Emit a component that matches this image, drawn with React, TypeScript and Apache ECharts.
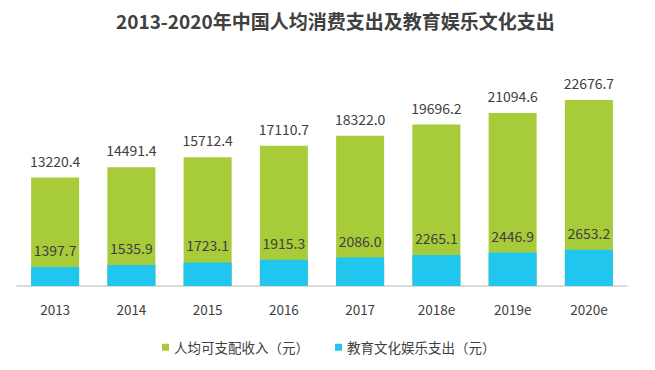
import React, { useEffect, useRef } from "react";
import * as echarts from "echarts";

const categories = ["2013", "2014", "2015", "2016", "2017", "2018e", "2019e", "2020e"];
const incomeValues = [13220.4, 14491.4, 15712.4, 17110.7, 18322.0, 19696.2, 21094.6, 22676.7];
const eduValues = [1397.7, 1535.9, 1723.1, 1915.3, 2086.0, 2265.1, 2446.9, 2653.2];
const seriesNames = ["人均可支配收入（元）", "教育文化娱乐支出（元）"];
const titleText = "2013-2020年中国人均消费支出及教育娱乐文化支出";

const FONT = "'Noto Sans CJK SC', 'Open Sans', sans-serif";

export default function App() {
  const ref = useRef<HTMLDivElement>(null);
  useEffect(() => {
    if (!ref.current) return;
    const chart = echarts.init(ref.current, null, { renderer: "svg" });
    chart.setOption({
      animation: false,
      backgroundColor: "#ffffff",
      textStyle: { fontFamily: FONT },
      title: {
        text: titleText,
        left: 111,
        top: 6,
        textStyle: { fontSize: 19, fontWeight: "bold", color: "#404040", fontFamily: FONT },
      },
      legend: {
        data: seriesNames,
        bottom: 11,
        left: 157,
        itemWidth: 7,
        itemHeight: 7,
        itemGap: 26,
        icon: "rect",
        textStyle: { fontSize: 13.5, color: "#404040", fontFamily: FONT },
      },
      grid: { left: 17, right: 28, top: 81, bottom: 84, containLabel: false },
      xAxis: {
        type: "category",
        data: categories,
        axisLine: { lineStyle: { color: "#d0d0d0", width: 1.5 } },
        axisTick: { show: false },
        axisLabel: { color: "#404040", fontSize: 13.5, margin: 16, fontFamily: FONT },
      },
      yAxis: [
        { type: "value", min: 0, max: 25000, show: false, splitLine: { show: false } },
        { type: "value", min: 0, max: 15000, show: false, splitLine: { show: false } },
      ],
      series: [
        {
          name: seriesNames[0],
          type: "bar",
          yAxisIndex: 0,
          data: incomeValues,
          barWidth: 48,
          barGap: "-100%",
          itemStyle: { color: "#a8cb3a" },
          label: {
            show: true,
            position: "top",
            distance: 10,
            color: "#404040",
            fontSize: 14,
            fontFamily: FONT,
            formatter: (p: any) => Number(p.value).toFixed(1),
          },
        },
        {
          name: seriesNames[1],
          type: "bar",
          yAxisIndex: 1,
          data: eduValues,
          barWidth: 48,
          barGap: "-100%",
          itemStyle: { color: "#20c6ee" },
          label: {
            show: true,
            position: "top",
            distance: 10,
            color: "#404040",
            fontSize: 14,
            fontFamily: FONT,
            formatter: (p: any) => Number(p.value).toFixed(1),
          },
        },
      ],
    });
    return () => chart.dispose();
  }, []);
  return (
    <div
      ref={ref}
      style={{ position: "fixed", left: 0, top: 0, width: 655, height: 370 }}
    />
  );
}
